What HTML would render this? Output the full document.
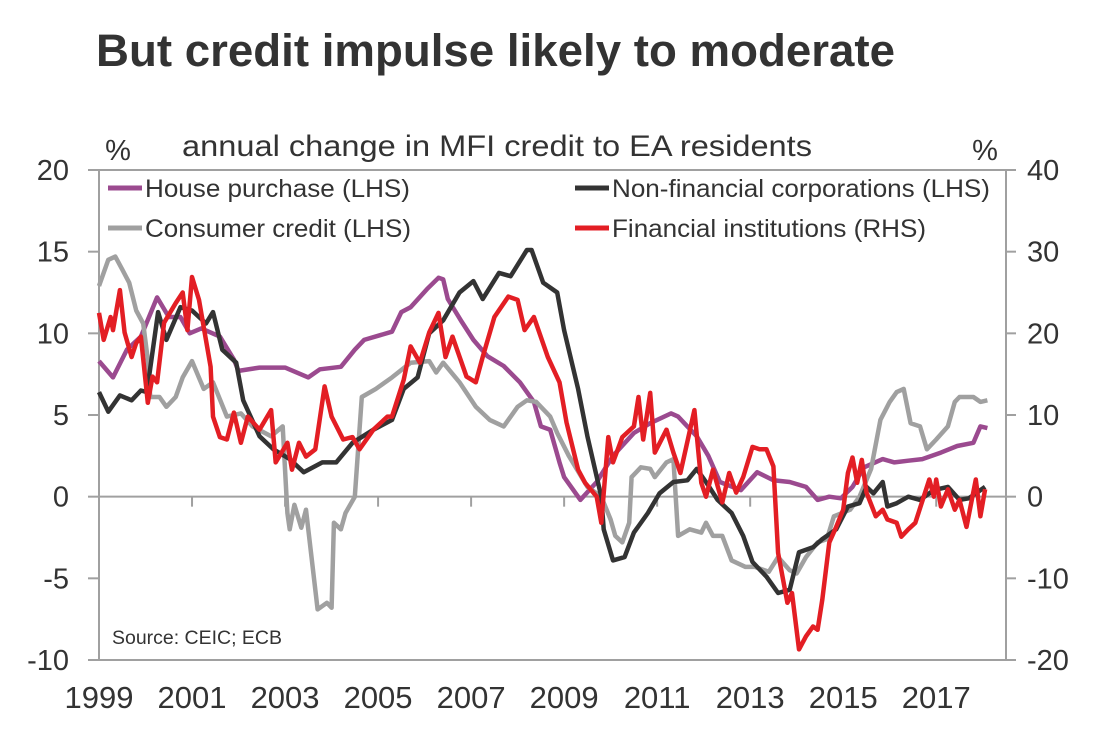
<!DOCTYPE html>
<html><head><meta charset="utf-8"><style>
body{margin:0;background:#fff;}
svg{display:block;font-family:"Liberation Sans",Arial,sans-serif;}
</style></head><body>
<svg id="chart" width="1104" height="741" viewBox="0 0 1104 741" xmlns="http://www.w3.org/2000/svg">
<text x="96" y="66" font-size="45" font-weight="bold" fill="#333" textLength="799" lengthAdjust="spacingAndGlyphs">But credit impulse likely to moderate</text>
<text x="182" y="156" font-size="30" fill="#333" textLength="630" lengthAdjust="spacingAndGlyphs">annual change in MFI credit to EA residents</text>
<text x="118" y="160" font-size="29" fill="#333" text-anchor="middle">%</text>
<text x="985" y="160" font-size="29" fill="#333" text-anchor="middle">%</text>
<g id="axes"></g>
<g id="series"></g>
<g font-size="25" fill="#333">
<line x1="108" y1="188" x2="142" y2="188" stroke="#9b4a8f" stroke-width="5"/>
<text x="145" y="197" textLength="265" lengthAdjust="spacingAndGlyphs">House purchase (LHS)</text>
<line x1="108" y1="228" x2="142" y2="228" stroke="#a0a0a0" stroke-width="5"/>
<text x="145" y="237" textLength="266" lengthAdjust="spacingAndGlyphs">Consumer credit (LHS)</text>
<line x1="575" y1="188" x2="609" y2="188" stroke="#333" stroke-width="5"/>
<text x="612" y="197" textLength="378" lengthAdjust="spacingAndGlyphs">Non-financial corporations (LHS)</text>
<line x1="575" y1="228" x2="609" y2="228" stroke="#e31e24" stroke-width="5"/>
<text x="612" y="237" textLength="314" lengthAdjust="spacingAndGlyphs">Financial institutions (RHS)</text>
</g>
<text x="112" y="644" font-size="19" fill="#333" textLength="170" lengthAdjust="spacingAndGlyphs">Source: CEIC; ECB</text>
</svg>
<script>
const leftTicks=[20,15,10,5,0,-5,-10];
const rightTicks=[40,30,20,10,0,-10,-20];
const yearLabels=[1999,2001,2003,2005,2007,2009,2011,2013,2015,2017];

const houseT=[1999.0,1999.3,1999.6,1999.9,2000.25,2000.5,2000.75,2000.95,2001.2,2001.6,2001.9,2002.0,2002.45,2003.0,2003.5,2003.75,2004.2,2004.5,2004.7,2005.3,2005.5,2005.7,2006.05,2006.3,2006.4,2006.5,2006.8,2007.05,2007.35,2007.7,2008.05,2008.35,2008.5,2008.7,2008.9,2009.0,2009.35,2009.7,2010.05,2010.5,2010.85,2011.3,2011.45,2011.65,2011.85,2012.1,2012.35,2012.8,2013.15,2013.5,2013.85,2014.2,2014.45,2014.7,2014.95,2015.2,2015.45,2015.85,2016.1,2016.4,2016.7,2017.1,2017.45,2017.8,2017.95,2018.1];
const houseV=[8.3,7.3,9.0,9.8,12.2,11.0,11.0,10.0,10.3,9.8,8.4,7.7,7.9,7.9,7.3,7.8,7.95,9.0,9.6,10.1,11.3,11.6,12.7,13.4,13.3,12.1,10.7,9.6,8.6,8.0,7.0,5.8,4.3,4.1,2.1,1.2,-0.2,0.9,2.5,3.9,4.5,5.1,4.9,4.3,3.7,2.5,0.9,0.4,1.5,1.0,0.9,0.6,-0.2,0,-0.1,0.6,1.8,2.3,2.1,2.2,2.3,2.7,3.1,3.3,4.3,4.2];

const consT=[1999.0,1999.2,1999.35,1999.5,1999.65,1999.8,1999.95,2000.05,2000.1,2000.3,2000.45,2000.65,2000.8,2001.0,2001.25,2001.45,2001.75,2002.05,2002.3,2002.7,2002.95,2003.05,2003.1,2003.2,2003.35,2003.45,2003.7,2003.9,2004.0,2004.05,2004.2,2004.3,2004.5,2004.65,2004.95,2005.3,2005.7,2006.1,2006.25,2006.4,2006.75,2007.1,2007.4,2007.7,2008.0,2008.2,2008.4,2008.7,2008.85,2009.1,2009.5,2009.8,2010.0,2010.1,2010.25,2010.4,2010.45,2010.65,2010.85,2010.95,2011.2,2011.35,2011.45,2011.7,2011.95,2012.05,2012.2,2012.4,2012.6,2012.9,2013.1,2013.4,2013.6,2013.85,2014.0,2014.2,2014.45,2014.65,2014.8,2015.15,2015.35,2015.6,2015.8,2016.0,2016.15,2016.3,2016.45,2016.65,2016.8,2017.0,2017.25,2017.4,2017.5,2017.8,2017.95,2018.1];
const consV=[12.9,14.5,14.7,13.9,13.1,11.4,10.6,8.4,6.1,6.1,5.5,6.1,7.3,8.3,6.6,7.0,4.9,5.1,4.3,3.7,4.3,-1.0,-2.0,-0.5,-1.9,-0.8,-6.9,-6.5,-6.8,-1.6,-2.0,-1.0,0,6.1,6.6,7.3,8.2,8.3,7.6,8.2,7.0,5.5,4.7,4.3,5.5,5.9,5.8,4.9,3.9,2.5,0.6,0,-1.4,-2.4,-2.8,-1.6,1.2,1.8,1.7,1.2,2.1,2.3,-2.4,-2.0,-2.2,-1.6,-2.4,-2.4,-3.9,-4.3,-4.3,-4.6,-3.7,-4.5,-4.7,-3.7,-2.8,-2.6,-1.2,-0.8,0,1.7,4.7,5.8,6.4,6.6,4.5,4.3,2.9,3.5,4.3,5.8,6.1,6.1,5.8,5.9];

const nfcT=[1999.0,1999.2,1999.45,1999.7,1999.9,2000.03,2000.27,2000.45,2000.75,2001.0,2001.3,2001.45,2001.65,2001.95,2002.1,2002.45,2002.75,2003.1,2003.4,2003.8,2004.1,2004.45,2004.9,2005.3,2005.55,2005.85,2006.1,2006.4,2006.75,2007.05,2007.25,2007.6,2007.85,2008.2,2008.3,2008.55,2008.85,2009.0,2009.3,2009.5,2009.8,2009.85,2010.05,2010.3,2010.5,2010.8,2011.05,2011.35,2011.65,2011.85,2012.05,2012.3,2012.6,2012.85,2013.05,2013.35,2013.6,2013.85,2014.05,2014.35,2014.55,2014.85,2015.1,2015.35,2015.5,2015.65,2015.85,2015.95,2016.15,2016.4,2016.65,2016.95,2017.25,2017.5,2017.7,2018.05];
const nfcV=[6.4,5.2,6.2,5.9,6.5,6.4,11.3,9.6,11.6,11.4,10.6,11.3,9.0,8.2,5.9,3.7,2.9,2.3,1.5,2.1,2.1,3.3,4.1,4.7,6.6,7.3,10.0,10.8,12.5,13.2,12.1,13.7,13.5,15.1,15.1,13.1,12.5,10.2,6.6,3.7,0,-2.0,-3.9,-3.7,-2.2,-1.0,0.2,0.9,1.0,1.7,0.9,-0.2,-1.0,-2.4,-4.0,-4.9,-5.9,-5.7,-3.4,-3.1,-2.6,-2.0,-0.6,-0.4,0.6,0.2,0.9,-0.6,-0.4,0,-0.2,0.4,0.6,-0.2,-0.1,0.6];

const fiT=[1999.0,1999.1,1999.25,1999.3,1999.45,1999.55,1999.7,1999.8,1999.9,2000.05,2000.15,2000.25,2000.4,2000.65,2000.8,2000.9,2001.0,2001.15,2001.4,2001.45,2001.6,2001.75,2001.9,2002.05,2002.2,2002.45,2002.7,2002.8,2003.05,2003.15,2003.3,2003.45,2003.65,2003.85,2004.0,2004.25,2004.45,2004.6,2004.9,2005.2,2005.3,2005.55,2005.7,2005.9,2006.1,2006.3,2006.45,2006.6,2006.9,2007.1,2007.25,2007.5,2007.8,2008.0,2008.15,2008.35,2008.65,2008.9,2009.05,2009.3,2009.45,2009.7,2009.8,2009.95,2010.05,2010.25,2010.5,2010.6,2010.7,2010.85,2010.95,2011.2,2011.35,2011.5,2011.8,2011.95,2012.05,2012.2,2012.4,2012.55,2012.7,2012.85,2013.05,2013.2,2013.35,2013.5,2013.6,2013.8,2013.9,2014.05,2014.2,2014.35,2014.45,2014.55,2014.7,2014.85,2015.0,2015.1,2015.2,2015.3,2015.4,2015.5,2015.7,2015.85,2015.95,2016.15,2016.25,2016.4,2016.55,2016.85,2016.95,2017.0,2017.1,2017.25,2017.4,2017.5,2017.65,2017.85,2017.95,2018.05];
const fiV=[22.5,19.2,22.0,20.4,25.3,20.1,17.1,18.8,19.6,11.5,14.7,14.0,21.3,23.7,25.0,20.4,26.9,24.1,15.9,9.8,7.3,7.0,10.3,6.6,9.8,8.2,10.6,4.2,6.6,3.3,6.6,4.9,5.8,13.5,9.8,7.0,7.3,5.8,8.2,9.8,9.8,14.3,18.4,16.4,20.1,22.5,17.1,19.6,14.7,14.0,17.1,22.0,24.5,24.1,20.4,22.0,17.1,14.0,9.1,3.3,1.7,0,-3.2,7.3,4.2,7.3,8.6,12.2,7.0,12.7,5.4,8.2,5.4,2.9,10.6,1.7,0,3.3,-0.7,2.9,0.5,2.4,6.1,5.8,5.8,3.7,-6.9,-13.0,-11.8,-18.7,-17.1,-15.9,-16.3,-12.6,-5.6,-3.7,-1.6,2.9,4.8,1.7,4.5,0.5,-2.4,-1.6,-2.8,-3.2,-4.9,-4.0,-3.2,2.1,0,2.1,-1.2,0.9,-1.6,-0.4,-3.7,2.1,-2.4,0.9];

const NS="http://www.w3.org/2000/svg";
const X0=99,X1=1006,Y0=170,Y1=660;
function xScale(t){return X0+(t-1999)*(X1-X0)/19.5;}
function yLeft(v){return Y1-(v+10)*(Y1-Y0)/30;}
function yRight(v){return Y1-(v+20)*(Y1-Y0)/60;}
function mk(tag,attrs,parent){const e=document.createElementNS(NS,tag);for(const k in attrs)e.setAttribute(k,attrs[k]);parent.appendChild(e);return e;}

const axes=document.getElementById('axes');
const ac="#a0a0a0";
let l;
l=mk('line',{x1:88,y1:Y0,x2:1016,y2:Y0,stroke:ac,'stroke-width':2},axes);


l=mk('line',{x1:88,y1:Y1,x2:1016,y2:Y1,stroke:ac,'stroke-width':2},axes);


l=mk('line',{x1:X0,y1:Y0,x2:X0,y2:Y1,stroke:ac,'stroke-width':2},axes);


l=mk('line',{x1:X1,y1:Y0,x2:X1,y2:Y1,stroke:ac,'stroke-width':2},axes);


l=mk('line',{x1:X0,y1:yLeft(0),x2:X1,y2:yLeft(0),stroke:ac,'stroke-width':2},axes);


leftTicks.forEach(v=>{
  const y=yLeft(v);
  const t=mk('line',{x1:88,y1:y,x2:X0,y2:y,stroke:ac,'stroke-width':2},axes);
  
  
  const tx=mk('text',{x:69,y:y+10,'font-size':29,fill:'#333','text-anchor':'end'},axes);
  tx.textContent=v;
  
  
});
rightTicks.forEach(v=>{
  const y=yRight(v);
  const t=mk('line',{x1:X1,y1:y,x2:1016,y2:y,stroke:ac,'stroke-width':2},axes);
  
  
  const tx=mk('text',{x:1027,y:y+10,'font-size':29,fill:'#333','text-anchor':'start'},axes);
  tx.textContent=v;
  
  
});
yearLabels.forEach(yr=>{
  const x=xScale(yr);
  const t=mk('line',{x1:x,y1:yLeft(0),x2:x,y2:yLeft(0)+10,stroke:ac,'stroke-width':2},axes);
  
  
  const tx=mk('text',{x:x,y:708,'font-size':31,fill:'#333','text-anchor':'middle'},axes);
  tx.textContent=yr;
  
  
});

const series=document.getElementById('series');
function draw(ts,vs,ys,color,name){
  const d=ts.map((t,i)=>(i?'L':'M')+xScale(t).toFixed(1)+' '+ys(vs[i]).toFixed(1)).join(' ');
  const p=mk('path',{d:d,fill:'none',stroke:color,'stroke-width':4.5,'stroke-linejoin':'round'},series);
  
  
}
draw(houseT,houseV,yLeft,'#9b4a8f','house-purchase-line');
draw(consT,consV,yLeft,'#a0a0a0','consumer-credit-line');
draw(nfcT,nfcV,yLeft,'#333333','nfc-line');
draw(fiT,fiV,yRight,'#e31e24','financial-institutions-line');
</script>
</body></html>
